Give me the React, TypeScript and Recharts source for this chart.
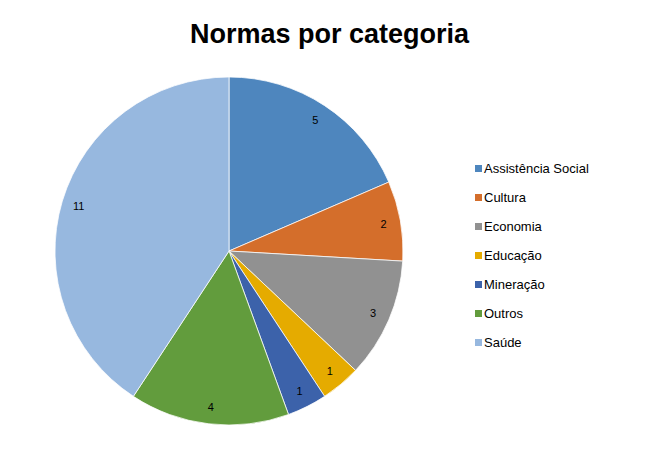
import { PieChart, Pie, Cell, Legend } from "recharts";

const categories = [
    "Assistência Social",
    "Cultura",
    "Economia",
    "Educação",
    "Mineração",
    "Outros",
    "Saúde",
];
const counts = [5, 2, 3, 1, 1, 4, 11];
const colors = ["#4E86BE", "#D46E2B", "#919191", "#E5AB00", "#3C62AA", "#629C3D", "#97B8DF"];

const data = categories.map((name, i) => ({ name, value: counts[i] }));

const RAD = Math.PI / 180;

function renderLabel(props: any) {
    const { cx, cy, midAngle, value } = props;
    const r = 157;
    const x = cx + r * Math.cos(-midAngle * RAD);
    const y = cy + r * Math.sin(-midAngle * RAD);
    return (
        <text
            x={x}
            y={y}
            fill="#000"
            fontSize={11}
            fontFamily="Liberation Sans, Arial, sans-serif"
            textAnchor="middle"
            dominantBaseline="central"
        >
            {value}
        </text>
    );
}

function LegendContent() {
    return (
        <div style={{ fontFamily: "Liberation Sans, Arial, sans-serif", fontSize: 13 }}>
            {categories.map((name, i) => (
                <div
                    key={name}
                    style={{ display: "flex", alignItems: "center", height: 29, color: "#000" }}
                >
                    <span
                        style={{
                            display: "inline-block",
                            width: 7,
                            height: 7,
                            background: colors[i],
                            marginRight: 2,
                        }}
                    />
                    {name}
                </div>
            ))}
        </div>
    );
}

export default function App() {
    return (
        <div style={{ position: "absolute", left: 0, top: 0, width: 659, height: 449, background: "#fff" }}>
            <div
                style={{
                    position: "absolute",
                    left: 0,
                    top: 19,
                    width: 659,
                    textAlign: "center",
                    fontFamily: "Liberation Sans, Arial, sans-serif",
                    fontWeight: "bold",
                    fontSize: 27,
                    color: "#000",
                }}
            >
                Normas por categoria
            </div>
            <PieChart width={659} height={449}>
                <Pie
                    data={data}
                    dataKey="value"
                    nameKey="name"
                    cx={224}
                    cy={246}
                    outerRadius={174}
                    startAngle={90}
                    endAngle={-270}
                    stroke="#ffffff"
                    strokeWidth={0.75}
                    label={renderLabel}
                    labelLine={false}
                    isAnimationActive={false}
                >
                    {data.map((d, i) => (
                        <Cell key={d.name} fill={colors[i]} />
                    ))}
                </Pie>
                <Legend
                    layout="vertical"
                    content={LegendContent}
                    wrapperStyle={{ left: 475, top: 154, width: 180 }}
                />
            </PieChart>
        </div>
    );
}
